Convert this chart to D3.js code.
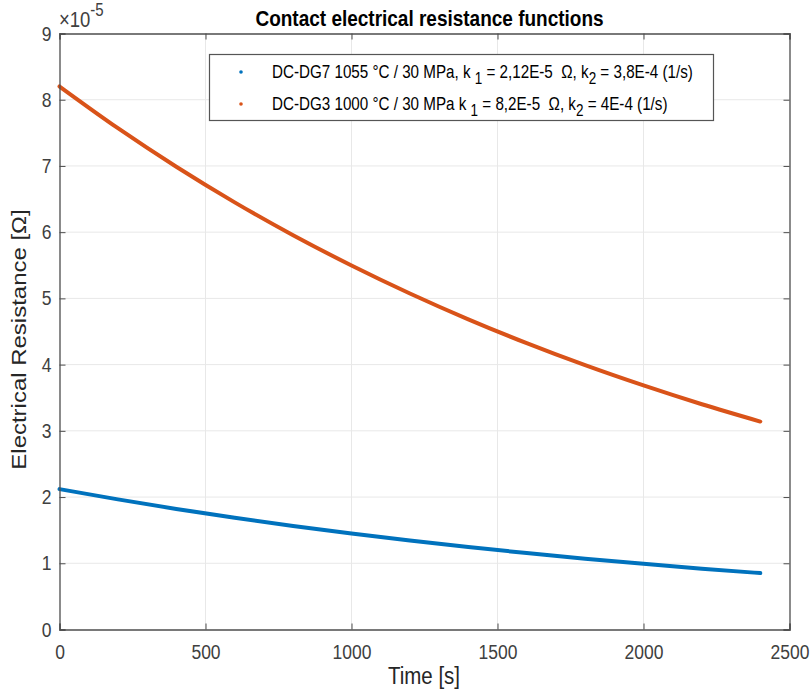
<!DOCTYPE html>
<html><head><meta charset="utf-8">
<script src="https://cdn.jsdelivr.net/npm/d3@7"></script>
<style>body{margin:0;background:#fff;font-family:"Liberation Sans",Arial,sans-serif;}</style>
</head><body>
<svg id="c" width="810" height="692" style="font-family:'Liberation Sans',Arial,sans-serif"></svg>
<script>
const times = [0,200,400,600,800,1000,1200,1400,1600,1800,2000,2200,2400];
const blueValues = [2.120,1.965,1.821,1.688,1.564,1.450,1.344,1.245,1.154,1.070,0.992,0.919,0.852];
const redValues  = [8.200,7.570,6.988,6.450,5.954,5.497,5.074,4.684,4.324,3.991,3.685,3.401,3.140];
const xTicks = [0,500,1000,1500,2000,2500];
const yTicks = [0,1,2,3,4,5,6,7,8,9];
const seriesNames = ["DC-DG7 1055 °C / 30 MPa, k","DC-DG3 1000 °C / 30 MPa k"];
const seriesK1 = ["2,12E-5","8,2E-5"];
const seriesK2 = ["3,8E-4","4E-4"];
const colors = ["#0072BD","#D95319"];

const SY = 1.17; // vertical stretch of text in the reference
const svg = d3.select("#c");
const L=59.5, R=789.5, T=33.5, B=629.5;
const x = d3.scaleLinear().domain([0,2500]).range([L,R]);
const y = d3.scaleLinear().domain([0,9]).range([B,T]);
const axisCol = "#4d4d4d";
const txtCol = "#404040";

// grid
const g = svg.append("g");
g.selectAll(".gx").data(xTicks.slice(1,-1)).join("line")
 .attr("x1",d=>x(d)).attr("x2",d=>x(d)).attr("y1",T).attr("y2",B)
 .attr("stroke","#e8e8e8").attr("stroke-width",1);
g.selectAll(".gy").data(yTicks.slice(1,-1)).join("line")
 .attr("y1",d=>y(d)).attr("y2",d=>y(d)).attr("x1",L).attr("x2",R)
 .attr("stroke","#e8e8e8").attr("stroke-width",1);

// lines
const line = d3.line().x((d,i)=>x(times[i])).y(d=>y(d)).curve(d3.curveMonotoneX);
[blueValues, redValues].forEach((vals,k)=>{
  svg.append("path").attr("d",line(vals)).attr("fill","none")
   .attr("stroke",colors[k]).attr("stroke-width",4).attr("stroke-linecap","round");
});

// axes
const fs = "17.5px";
const ax = svg.append("g").attr("transform",`translate(0,${B})`)
 .call(d3.axisBottom(x).tickValues(xTicks).tickSize(-6).tickFormat(d3.format("d")));
const ay = svg.append("g").attr("transform",`translate(${L},0)`)
 .call(d3.axisLeft(y).tickValues(yTicks).tickSize(-6).tickFormat(d3.format("d")));
const axT = svg.append("g").attr("transform",`translate(0,${T})`)
 .call(d3.axisTop(x).tickValues(xTicks).tickSize(-6).tickFormat(""));
const ayR = svg.append("g").attr("transform",`translate(${R},0)`)
 .call(d3.axisRight(y).tickValues(yTicks).tickSize(-6).tickFormat(""));
[ax,ay,axT,ayR].forEach(a=>{
  a.attr("font-family",null).attr("font-size",null);
  a.selectAll("path").attr("stroke",axisCol).attr("stroke-width",1.3);
  a.selectAll("line").attr("stroke",axisCol);
  a.selectAll("text").attr("fill",txtCol).style("font-size",fs);
});
ax.selectAll("text").attr("y",0).attr("dy",null).attr("transform",`translate(0,${29}) scale(1,${SY})`);
ay.selectAll("text").attr("x",0).attr("dy",null).attr("transform",`translate(-8,${6.5}) scale(1,${SY})`);

// exponent
const ex = svg.append("text").attr("transform",`translate(59,27) scale(1,${SY})`).attr("fill",txtCol)
 .style("font-size","18.5px");
ex.append("tspan").text("×10");
ex.append("tspan").attr("dy",-9).style("font-size","15px").text("-5");

// title
svg.append("text").attr("transform",`translate(${(L+R)/2+5},26) scale(1,${SY})`).attr("text-anchor","middle")
 .style("font-size","19px").style("font-weight","bold").attr("fill","#000")
 .text("Contact electrical resistance functions");

// axis labels
svg.append("text").attr("transform",`translate(${(L+R)/2-0.5},684) scale(1,${SY})`).attr("text-anchor","middle")
 .style("font-size","20.5px").attr("fill","#262626").text("Time [s]");
svg.append("text").attr("transform",`translate(26,${(T+B)/2+8}) rotate(-90) scale(${SY},1)`).attr("text-anchor","middle")
 .style("font-size","20.5px").attr("fill","#262626").text("Electrical Resistance [Ω]");

// legend
const lg = svg.append("g");
lg.append("rect").attr("x",209.5).attr("y",54.5).attr("width",504).attr("height",66)
 .attr("fill","#fff").attr("stroke","#555").attr("stroke-width",1.2);
[0,1].forEach(k=>{
  const yy = 72 + k*32;
  lg.append("circle").attr("cx",241).attr("cy",yy).attr("r",1.8).attr("fill",colors[k]);
  const t = lg.append("text").attr("transform",`translate(272,${yy+6}) scale(1,${SY})`)
    .style("font-size","15.2px").attr("fill","#000").style("white-space","pre");
  t.append("tspan").text(seriesNames[k]+"\u00a0");
  t.append("tspan").attr("dy",5).style("font-size","13.5px").text("1");
  t.append("tspan").attr("dy",-5).text(" = "+seriesK1[k]+"\u00a0\u00a0Ω, k");
  t.append("tspan").attr("dy",5).style("font-size","13.5px").text("2");
  t.append("tspan").attr("dy",-5).text(" = "+seriesK2[k]+" (1/s)");
});
</script>
</body></html>
